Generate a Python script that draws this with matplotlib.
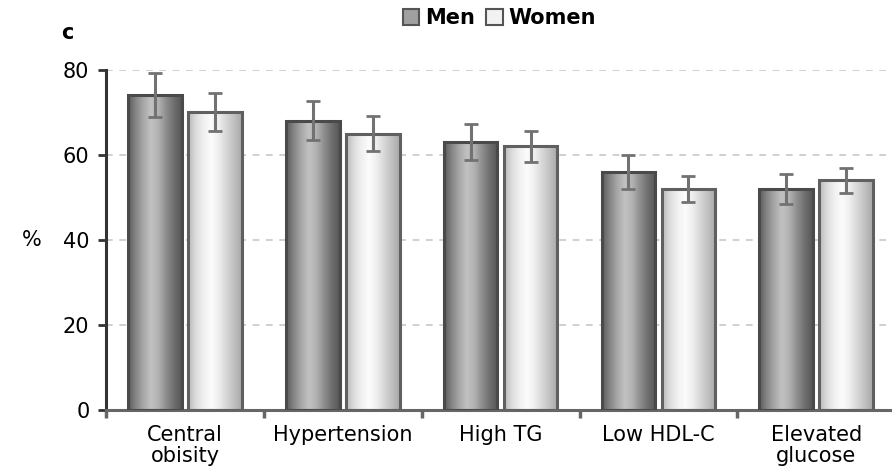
import numpy as np
import matplotlib
matplotlib.use("Agg")
import matplotlib.pyplot as plt
from matplotlib.patches import Patch
from matplotlib.colors import LinearSegmentedColormap

categories = ["Central\nobisity", "Hypertension", "High TG", "Low HDL-C", "Elevated\nglucose"]
men = [74, 68, 63, 56, 52]
women = [70, 65, 62, 52, 54]
men_err = [5.2, 4.6, 4.2, 4.0, 3.6]
women_err = [4.5, 4.2, 3.6, 3.0, 3.0]
yticks = [0, 20, 40, 60, 80]

plt.rcParams['font.family'] = ['DejaVu Sans']

fig = plt.figure(figsize=(8.92, 4.75), dpi=100)
ax = fig.add_axes([0.119, 0.137, 0.881, 0.716])

x = np.arange(len(categories))
w = 0.34
off = 0.19

men_cmap = LinearSegmentedColormap.from_list(
    "m", ["#5a5a5a", "#858585", "#a8a8a8", "#c2c2c2", "#b0b0b0", "#8c8c8c", "#6e6e6e", "#555555"])
wom_cmap = LinearSegmentedColormap.from_list(
    "w", ["#b8b8b8", "#dcdcdc", "#f0f0f0", "#fcfcfc", "#eeeeee", "#d6d6d6", "#c0c0c0", "#a8a8a8"])
grad = np.linspace(0, 1, 256).reshape(1, -1)

ax.set_xlim(-0.5, 4.48)
ax.set_ylim(0, 80)

def draw(xs, vals, errs, cmap, edge):
    bars = ax.bar(xs, vals, width=w, facecolor="none", edgecolor=edge, linewidth=2.2, zorder=3)
    for b in bars:
        x0, y0 = b.get_x(), b.get_y()
        im = ax.imshow(grad, cmap=cmap, aspect="auto",
                       extent=[x0, x0 + b.get_width(), y0, y0 + b.get_height()],
                       zorder=2, interpolation="bilinear")
        im.set_clip_path(b)
    ax.errorbar(xs, vals, yerr=errs, fmt="none", ecolor="#727272",
                elinewidth=2.2, capsize=5, capthick=2, zorder=4)

draw(x - off, men, men_err, men_cmap, "#4a4a4a")
draw(x + off, women, women_err, wom_cmap, "#606060")

ax.set_xlim(-0.5, 4.48)
ax.set_ylim(0, 80)

for yv in yticks[1:]:
    ax.axhline(yv, color="#c8c8c8", linestyle=(0, (4, 4)), linewidth=1.2, zorder=1)

ax.spines["top"].set_visible(False)
ax.spines["right"].set_visible(False)
ax.spines["left"].set_color("#333333")
ax.spines["left"].set_linewidth(2.2)
ax.spines["bottom"].set_color("#666666")
ax.spines["bottom"].set_linewidth(2.2)

ax.set_yticks(yticks)
ax.set_yticklabels([str(v) for v in yticks], fontsize=15)
ax.tick_params(axis="y", length=6, width=2, color="#333333", pad=6)

ax.set_xticks(x)
ax.set_xticklabels(categories, fontsize=15, linespacing=1.05)
ax.tick_params(axis="x", which="major", length=0, pad=11)
ax.set_xticks(np.arange(-0.5, 4.5, 1.0), minor=True)
ax.tick_params(axis="x", which="minor", length=6, width=2.5, color="#666666")

fig.text(0.024, 0.495, "%", fontsize=15, ha="left", va="center")
fig.text(0.076, 0.93, "c", fontsize=15, fontweight="bold", ha="center", va="center")

handles = [Patch(facecolor="#a0a0a0", edgecolor="#555555", linewidth=1.5),
           Patch(facecolor="#f2f2f2", edgecolor="#555555", linewidth=1.5)]
fig.legend(handles, ["Men", "Women"], loc="center", bbox_to_anchor=(0.56, 0.962),
           ncol=2, frameon=False, prop={"size": 15, "weight": "semibold"},
           handlelength=0.8, handleheight=0.8,
           handletextpad=0.3, columnspacing=0.5)

fig.savefig("out.png", dpi=100)
